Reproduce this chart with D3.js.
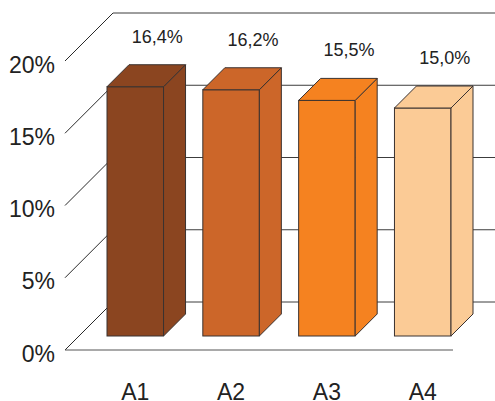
<!DOCTYPE html>
<html>
<head>
<meta charset="utf-8">
<script src="https://cdn.jsdelivr.net/npm/d3@7"></script>
<style>
  html, body { margin: 0; padding: 0; background: #fff; }
  svg { display: block; }
  text { font-family: "Liberation Sans", Arial, sans-serif; fill: #222; }
</style>
</head>
<body>
<svg id="chart" width="495" height="401"></svg>
<script>
// Data
const categories = ["A1", "A2", "A3", "A4"];
const values = [16.4, 16.2, 15.5, 15.0];
const barColors = ["#8B4520", "#CC6629", "#F58220", "#FBCB96"];
const yTicks = [0, 5, 10, 15, 20];
const yTickLabels = ["0%", "5%", "10%", "15%", "20%"];

const svg = d3.select("#chart");
const W = 495, H = 401;

// Box geometry: front plane of the walls, depth offset of the back wall
const wallDepth = { dx: 48, dy: 48 };
const floorLeft = 65, floorRight = 453;

// Value scale on the front plane of the walls
const yWall = d3.scaleLinear().domain([0, 20]).range([350, 61]);

// Column plane (set forward into the floor) and its own value scale
const yBar = d3.scaleLinear().domain([0, 20]).range([336, 32]);
const x = d3.scaleBand().domain(categories).range([107, 451]).paddingInner(0.41).paddingOuter(0);
const barDepth = { dx: 22, dy: 22 };

const fmt = v => d3.format(".1f")(v).replace(".", ",") + "%";

// Back wall gridlines
svg.append("g")
  .selectAll("line")
  .data(yTicks)
  .join("line")
  .attr("x1", floorLeft + wallDepth.dx)
  .attr("x2", floorRight + wallDepth.dx)
  .attr("y1", d => yWall(d) - wallDepth.dy)
  .attr("y2", d => yWall(d) - wallDepth.dy)
  .attr("stroke", "#3c3c3c")
  .attr("stroke-width", 1);

// Left wall diagonals
svg.append("g")
  .selectAll("line")
  .data(yTicks)
  .join("line")
  .attr("x1", floorLeft)
  .attr("x2", floorLeft + wallDepth.dx)
  .attr("y1", d => yWall(d))
  .attr("y2", d => yWall(d) - wallDepth.dy)
  .attr("stroke", "#2a2a2a")
  .attr("stroke-width", 1);

// Floor front edge
svg.append("line")
  .attr("x1", floorLeft).attr("x2", floorRight)
  .attr("y1", yWall(0)).attr("y2", yWall(0))
  .attr("stroke", "#555")
  .attr("stroke-width", 1);

// Value axis labels
svg.append("g")
  .selectAll("text")
  .data(yTicks)
  .join("text")
  .attr("x", 55)
  .attr("y", d => yWall(d) + 3.5)
  .attr("text-anchor", "end")
  .attr("dominant-baseline", "central")
  .style("font-size", "23px")
  .text((d, i) => yTickLabels[i]);

// Columns
const bars = svg.append("g")
  .selectAll("g")
  .data(categories.map((c, i) => ({ c, v: values[i], color: barColors[i] })))
  .join("g");

const stroke = "#3a3230";

bars.append("rect")
  .attr("x", d => x(d.c))
  .attr("y", d => yBar(d.v))
  .attr("width", x.bandwidth())
  .attr("height", d => yBar(0) - yBar(d.v))
  .attr("fill", d => d.color)
  .attr("stroke", stroke)
  .attr("stroke-width", 1);

bars.append("polygon")
  .attr("points", d => {
    const xr = x(d.c) + x.bandwidth(), yt = yBar(d.v), yb = yBar(0);
    return [[xr, yt], [xr + barDepth.dx, yt - barDepth.dy], [xr + barDepth.dx, yb - barDepth.dy], [xr, yb]].join(" ");
  })
  .attr("fill", d => d.color)
  .attr("stroke", stroke)
  .attr("stroke-width", 1)
  .attr("stroke-linejoin", "round");

bars.append("polygon")
  .attr("points", d => {
    const xl = x(d.c), xr = xl + x.bandwidth(), yt = yBar(d.v);
    return [[xl, yt], [xl + barDepth.dx, yt - barDepth.dy], [xr + barDepth.dx, yt - barDepth.dy], [xr, yt]].join(" ");
  })
  .attr("fill", d => d.color)
  .attr("stroke", stroke)
  .attr("stroke-width", 1)
  .attr("stroke-linejoin", "round");

// Value labels above each column
bars.append("text")
  .attr("x", d => x(d.c) + x.bandwidth() / 2 + barDepth.dx)
  .attr("y", d => yBar(d.v) - barDepth.dy - 28)
  .attr("text-anchor", "middle")
  .attr("dominant-baseline", "central")
  .style("font-size", "18px")
  .text(d => fmt(d.v));

// Category labels
svg.append("g")
  .selectAll("text")
  .data(categories)
  .join("text")
  .attr("x", d => x(d) + x.bandwidth() / 2)
  .attr("y", 400)
  .attr("text-anchor", "middle")
  .style("font-size", "23px")
  .text(d => d);
</script>
</body>
</html>
